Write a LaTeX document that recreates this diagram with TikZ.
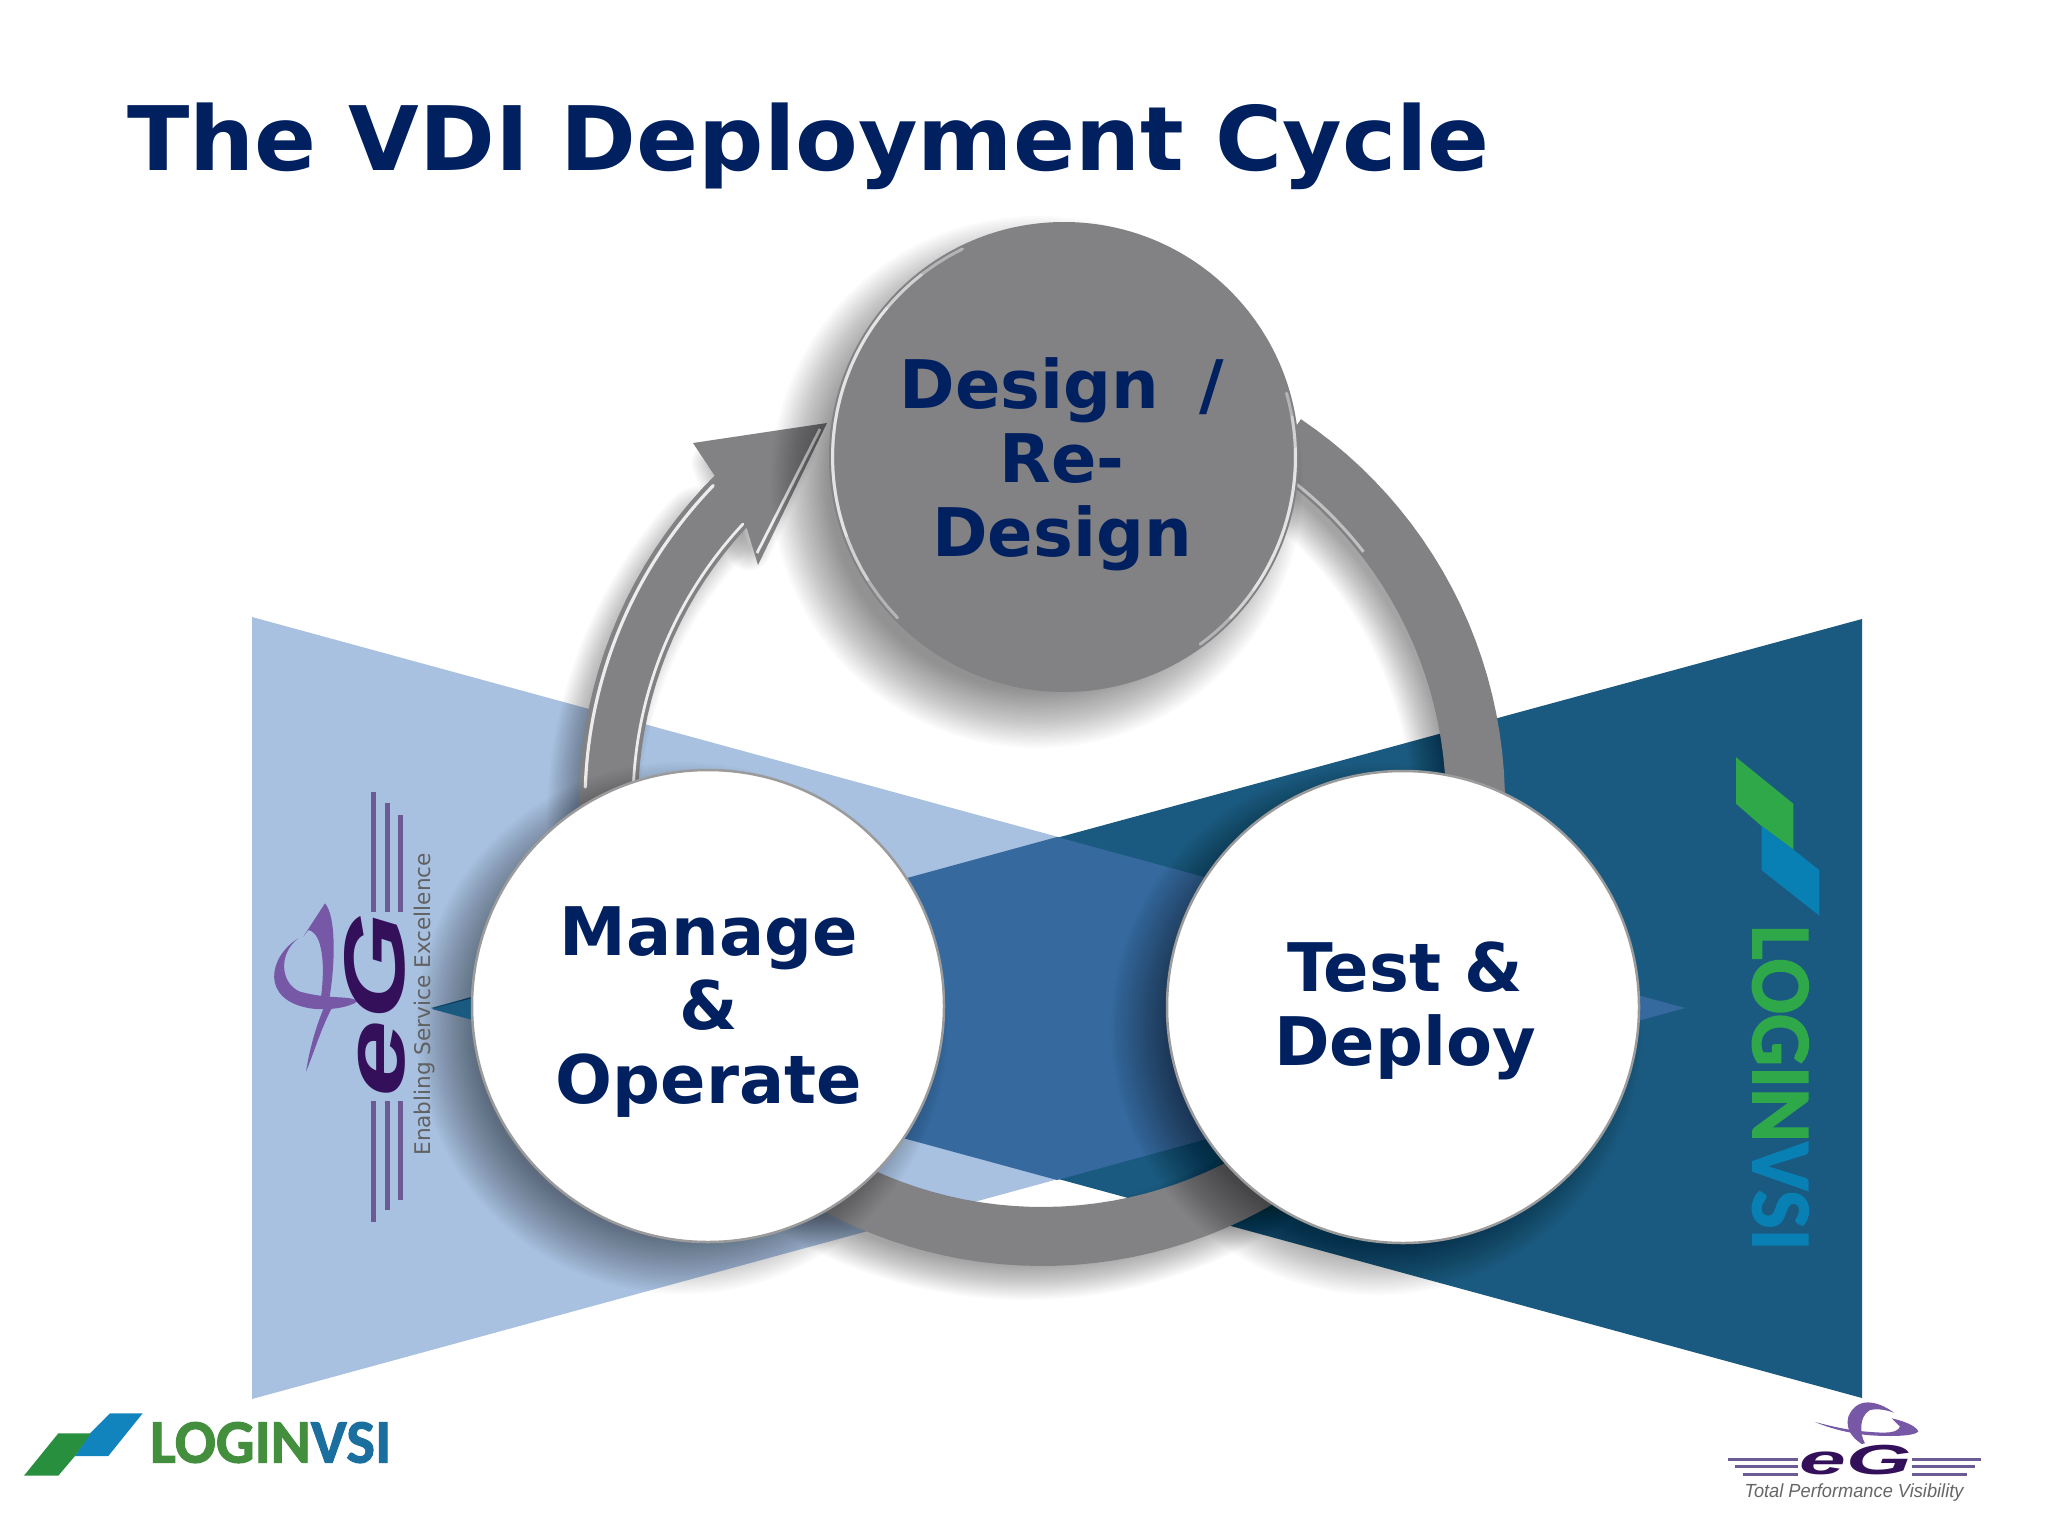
\documentclass[tikz,border=0pt]{standalone}
\usepackage{fontspec}
\setmainfont{DejaVu Sans}
\newfontfamily\logofont[BoldFont=Carlito Bold,BoldFeatures={FakeBold=1.6}]{Carlito}
\newfontfamily\tagfont{Liberation Sans}
\usetikzlibrary{calc}
\definecolor{navy}{HTML}{002060}
\definecolor{lightblue}{HTML}{A9C1E1}
\definecolor{darkblue}{HTML}{1B5A80}
\definecolor{midblue}{HTML}{366A9F}
\definecolor{ringgray}{HTML}{828184}
\definecolor{rimgray}{HTML}{9C9B9C}
\definecolor{egdark}{HTML}{34105A}
\definecolor{egpurple}{HTML}{7658A6}
\definecolor{egstripe}{HTML}{6B5A93}
\definecolor{lvgreen}{HTML}{2FA84A}
\definecolor{lvblue}{HTML}{0880B4}
\definecolor{lvgreenb}{HTML}{438F3E}
\definecolor{lvblueb}{HTML}{1B6F9E}
\tikzset{
  stagetext/.style={font=\fontsize{67}{74}\selectfont\bfseries,text=navy,align=center,inner sep=0pt},
  whitedisc/.style={circle,fill=white,draw=rimgray,line width=2.5pt,minimum size=472pt,inner sep=0pt},
  graydisc/.style={circle,fill=ringgray,draw=none,minimum size=470pt,inner sep=0pt},
  eglayer/.style={fill=egpurple,draw=none},
  softlayer/.style={black,opacity=0.021},
  bevel/.style={white,opacity=0.4,line width=3pt,line cap=round},
}
\newcommand\softdisc[3]{% centre x, centre y, radius
  \foreach \k in {0,...,24}{
    \fill[softlayer] (#1,#2) circle ({#3+26-\k*2.4});
  }}
\newcommand\designrim[2]{% from angle, to angle
  \draw[bevel] plot[domain=#1:#2,samples=30] ({1064+231.5*cos(\x)},{457-231.5*sin(\x)});
}
\begin{document}
\begin{tikzpicture}[x=1pt,y=-1pt]
\useasboundingbox (0,0) rectangle (2048,1536);
\fill[white] (0,0) rectangle (2048,1536);
% triangles
\fill[lightblue] (252,617) -- (1685,1008) -- (252,1399) -- cycle;
\fill[darkblue] (1862,619) -- (431,1008) -- (1862,1398) -- cycle;
\fill[midblue] (620,956.5) -- (1057,837) -- (1685,1008) -- (1057,1180) -- (620,1061) -- cycle;
% ring and arrow shadow
\begin{scope}[shift={(-16,18)}]
  \foreach \k in {1,...,20}{
    \draw[softlayer,line width={20pt+\k*3.6pt},line cap=round] plot[domain=56:-222,samples=120] ({1042+433*cos(\x)},{803-433*sin(\x)});
  }
  \foreach \k in {1,...,14}{
    \draw[softlayer,line width={\k*3.2pt},line join=round] (730,445) -- (810,432) -- (765,530) -- cycle;
  }
\end{scope}
% ring with arrow
\fill[ringgray] plot[domain=56:-225,samples=120] ({1042+463*cos(\x)},{803-463*sin(\x)})
  -- (693,443) -- (827,423) -- (758,565)
  -- plot[domain=-223:56,samples=120] ({1042+404*cos(\x)},{803-404*sin(\x)})
  -- cycle;
% highlights
\draw[white,opacity=0.85,line width=3.2pt,line cap=round] plot[domain=136:178,samples=40] ({1042+457*cos(\x)},{803-457*sin(\x)});
\draw[white,opacity=0.85,line width=2.8pt,line cap=round] plot[domain=137:178,samples=40] ({1042+409*cos(\x)},{803-409*sin(\x)});
\draw[white,opacity=0.85,line width=2.8pt] (820,429) -- (757,553);
\draw[white,opacity=0.5,line width=3pt] plot[domain=55:38,samples=20] ({1042+408*cos(\x)},{803-408*sin(\x)});
% design circle
\softdisc{1037}{482}{240}
\node[graydisc] (design) at (1064,457) {};
\designrim{140}{200}
\designrim{128}{212}
\designrim{116}{224}
\designrim{2}{-35}
\designrim{10}{-44}
\designrim{16}{-54}
\node[stagetext] (designtext) at (1062,464) {Design\hspace{0.6em}/\\Re-\\Design};
% manage and test circles
\softdisc{682}{1028}{240}
\softdisc{1377}{1029}{240}
\fill[darkblue] (432,1009) -- (480,996) -- (480,1022) -- cycle;
\node[whitedisc] (manage) at (708,1006) {};
\node[whitedisc] (test) at (1403,1007) {};
\node[stagetext] (managetext) at (709,1012) {Manage\\\&\\Operate};
\node[stagetext] (testtext) at (1405,1011) {Test \&\\Deploy};
% title
\node[anchor=base west,inner sep=0pt,font=\fontsize{89}{95}\selectfont\bfseries,text=navy] (title) at (127,170) {\scalebox{1.027}[1]{The VDI Deployment Cycle}};
% eG rotated logo
\begin{scope}[shift={(240,760)},x=0.3333pt,y=-0.3333pt]
  \foreach \xx/\ya/\yb in {400/95/455,442/130/455,482/165/455,400/1385/1022,442/1350/1022,482/1320/1022}{
    \draw[egstripe,line width=5.5pt] (\xx,\ya) -- (\xx,\yb);
  }
  \fill[eglayer] (175,535) .. controls (85,590) and (60,720) .. (210,745) .. controls (260,752) and (320,745) .. (352,725) .. controls (340,705) and (270,720) .. (180,695) .. controls (120,670) and (115,580) .. (175,535) -- cycle;
  \fill[eglayer] (255,430) .. controls (290,470) and (285,620) .. (268,715) -- (243,712) .. controls (255,620) and (250,520) .. (205,510) -- (190,530) -- cycle;
  \fill[eglayer] (198,935) .. controls (212,850) and (232,790) .. (255,735) -- (278,740) .. controls (245,800) and (225,870) .. (198,935) -- cycle;
  \node[rotate=90,inner sep=0pt,text=egdark,font=\tagfont\fontsize{86}{86}\selectfont\bfseries\itshape] (egleft) at (405,735) {\scalebox{1.62}[1]{eG}};
  \node[rotate=90,inner sep=0pt,text=black!62,font=\fontsize{21.6}{22}\selectfont] (egtag) at (553,733) {Enabling Service Excellence};
\end{scope}
% LoginVSI rotated logo
\begin{scope}[shift={(1700,740)},x=0.3333pt,y=-0.3444pt]
  \fill[lvgreen] (108,50) -- (280,185) -- (280,318) -- (185,250) -- (108,185) -- cycle;
  \fill[lvblue] (185,250) -- (280,318) -- (358,378) -- (358,510) -- (185,378) -- cycle;
  \node[rotate=-90,inner sep=0pt,font=\logofont\fontsize{85}{85}\selectfont\bfseries] (lvright) at (241,1010) {\scalebox{0.965}[1]{\textcolor{lvgreen}{LOGIN}\textcolor{lvblue}{VSI}}};
\end{scope}
% LoginVSI bottom logo
\begin{scope}[shift={(0,1380)},x=0.3333pt,y=-0.3333pt]
  \fill[lvblueb!75!cyan!90!blue] (330,100) -- (428,100) -- (325,228) -- (225,228) -- (270,160) -- cycle;
  \fill[lvgreen!85!black] (175,160) -- (272,160) -- (225,228) -- (175,287) -- (72,287) -- cycle;
  \node[anchor=base west,inner sep=0pt,font=\logofont\fontsize{62}{62}\selectfont\bfseries] (lvbottom) at (450,248) {\scalebox{0.98}[1]{\textcolor{lvgreenb}{LOGIN}\textcolor{lvblueb}{VSI}}};
\end{scope}
% eG bottom logo
\begin{scope}[shift={(1700,1380)},x=0.3333pt,y=-0.3333pt]
  \foreach \xa/\xb/\yy in {85/295/238,105/295/260,128/295/283,635/843/238,635/825/260,635/800/283}{
    \draw[egstripe,line width=2.6pt] (\xa,\yy) -- (\xb,\yy);
  }
  \fill[eglayer] (582,98) .. controls (530,60) and (470,50) .. (445,110) .. controls (435,150) and (460,175) .. (485,192) -- (495,190) .. controls (480,165) and (475,110) .. (510,90) .. controls (535,85) and (560,90) .. (582,98) -- cycle;
  \fill[eglayer] (345,126) .. controls (400,140) and (440,150) .. (500,155) .. controls (560,160) and (590,160) .. (600,140) -- (575,115) .. controls (620,125) and (650,140) .. (655,155) .. controls (640,170) and (560,170) .. (500,165) .. controls (440,158) and (390,145) .. (345,126) -- cycle;
  \node[inner sep=0pt,text=egdark,font=\tagfont\fontsize{42}{42}\selectfont\bfseries\itshape] (egright) at (467,240) {\scalebox{2}[1]{eG}};
  \node[anchor=base west,inner sep=0pt,text=black!60,font=\tagfont\fontsize{19}{19}\selectfont\itshape] (egtagr) at (133,352) {\scalebox{0.96}[1]{Total Performance Visibility}};
\end{scope}
\end{tikzpicture}
\end{document}
